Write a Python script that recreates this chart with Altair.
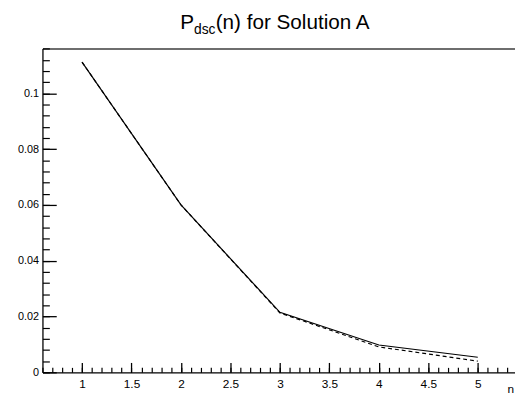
import altair as alt
import pandas as pd

# data
n_vals = [1, 2, 3, 4, 5]
p_solid = [0.1112, 0.0600, 0.0215, 0.0098, 0.0054]
p_dashed = [0.1112, 0.0600, 0.0213, 0.0091, 0.0040]

x_major = [1.0, 1.5, 2.0, 2.5, 3.0, 3.5, 4.0, 4.5, 5.0]
x_minor = [round(0.6 + 0.1 * i, 1) for i in range(48)]
y_major = [0.0, 0.02, 0.04, 0.06, 0.08, 0.10]
y_minor = [round(0.004 * i, 3) for i in range(30)]

X_DOMAIN = [0.6, 5.376]
Y_DOMAIN = [0.0, 0.1161]
W, H = 480, 329
FONT = "Liberation Sans"

df = pd.DataFrame({
    "n": n_vals * 2,
    "p": p_solid + p_dashed,
    "series": ["solid"] * 5 + ["dashed"] * 5,
})

xs = alt.Scale(domain=X_DOMAIN, nice=False, zero=False)
ys = alt.Scale(domain=Y_DOMAIN, nice=False, zero=False)

base = alt.Chart(df)

dashed = base.transform_filter(alt.datum.series == "dashed").mark_line(
    color="black", strokeWidth=1.2, strokeDash=[4, 3]
).encode(
    x=alt.X("n:Q", scale=xs, axis=alt.Axis(
        orient="bottom", values=x_major, ticks=False, grid=False, title=None,
        domainColor="black", domainWidth=1.3, labelFont=FONT, labelFontSize=12,
        labelColor="black", labelPadding=6, labelFlush=False, format="~g")),
    y=alt.Y("p:Q", scale=ys, axis=alt.Axis(
        orient="left", values=y_major, ticks=False, grid=False, title=None,
        domainColor="black", domainWidth=1.3, labelFont=FONT, labelFontSize=11,
        labelColor="black", labelPadding=4, labelFlush=False, format="~g")),
)

solid = base.transform_filter(alt.datum.series == "solid").mark_line(
    color="black", strokeWidth=1.2
).encode(
    x=alt.X("n:Q", scale=xs, axis=alt.Axis(
        orient="top", ticks=False, labels=False, grid=False, title=None,
        domainColor="#6e6e6e", domainWidth=2)),
    y=alt.Y("p:Q", scale=ys, axis=alt.Axis(
        orient="right", offset=-W, values=y_minor, tickSize=7, tickWidth=1.2,
        tickColor="black", labels=False, domain=False, grid=False, title=None)),
)

ghost1 = base.mark_point(opacity=0).encode(
    x=alt.X("n:Q", scale=xs, axis=alt.Axis(
        orient="top", offset=-H, values=x_minor, tickSize=5, tickWidth=1.2,
        tickColor="black", labels=False, domain=False, grid=False, title=None)),
    y=alt.Y("p:Q", scale=ys, axis=alt.Axis(
        orient="right", offset=-W, values=y_major, tickSize=14, tickWidth=1.3,
        tickColor="black", labels=False, domain=False, grid=False, title=None)),
)

ghost2 = base.mark_point(opacity=0).encode(
    x=alt.X("n:Q", scale=xs, axis=alt.Axis(
        orient="top", offset=-H, values=x_major, tickSize=10, tickWidth=1.3,
        tickColor="black", labels=False, domain=False, grid=False, title=None)),
    y=alt.Y("p:Q", scale=ys, axis=None),
)

t_p = alt.Chart(pd.DataFrame({"t": ["P"]})).mark_text(
    font=FONT, fontSize=21, align="left", baseline="alphabetic", color="black"
).encode(text="t:N", x=alt.value(140), y=alt.value(-20))
t_sub = alt.Chart(pd.DataFrame({"t": ["dsc"]})).mark_text(
    font=FONT, fontSize=14, align="left", baseline="alphabetic", color="black"
).encode(text="t:N", x=alt.value(154), y=alt.value(-15))
t_main = alt.Chart(pd.DataFrame({"t": ["(n) for Solution A"]})).mark_text(
    font=FONT, fontSize=21, align="left", baseline="alphabetic", color="black"
).encode(text="t:N", x=alt.value(176), y=alt.value(-20))
t_n = alt.Chart(pd.DataFrame({"t": ["n"]})).mark_text(
    font=FONT, fontSize=12, align="right", baseline="alphabetic", color="black"
).encode(text="t:N", x=alt.value(W - 1), y=alt.value(H + 21))

chart = alt.layer(dashed, solid, ghost1, ghost2, t_p, t_sub, t_main, t_n).resolve_axis(
    x="independent", y="independent"
).properties(
    width=W, height=H,
    autosize=alt.AutoSizeParams(type="none"),
    padding={"left": 35, "top": 38, "right": 0, "bottom": 20},
).configure_view(stroke=None)

chart.save("out.html", embed_options={"renderer": "svg", "actions": False})
